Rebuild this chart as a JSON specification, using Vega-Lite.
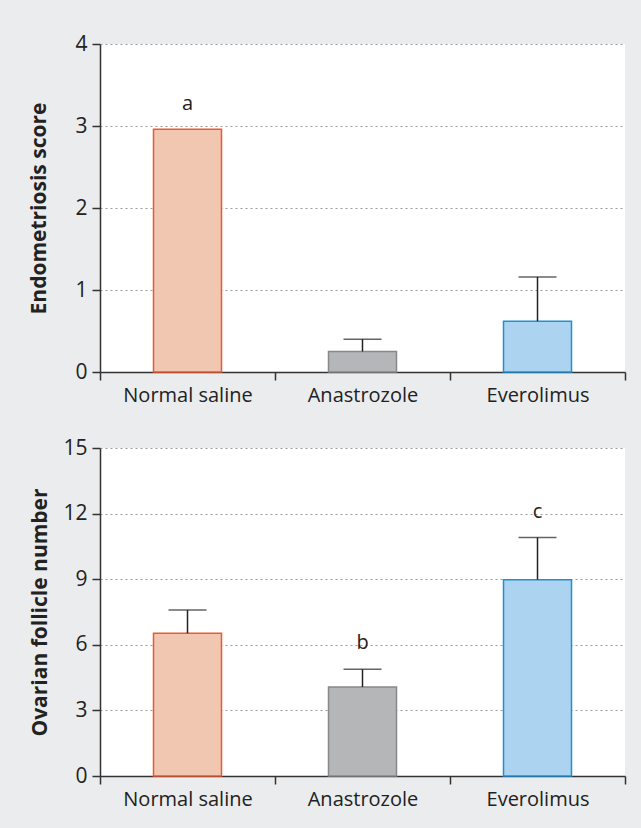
{
  "$schema": "https://vega.github.io/schema/vega-lite/v6.json",
  "background": "#ebeced",
  "padding": {"left": 28, "top": 33, "right": 16, "bottom": 20},
  "datasets": {
    "endo": [
      {"group": "Normal saline", "mean": 2.96, "upper": null, "letter": "a", "letter_y": 3.27},
      {"group": "Anastrozole", "mean": 0.25, "upper": 0.40, "letter": "", "letter_y": null},
      {"group": "Everolimus", "mean": 0.62, "upper": 1.16, "letter": "", "letter_y": null}
    ],
    "foll": [
      {"group": "Normal saline", "mean": 6.53, "upper": 7.59, "letter": "", "letter_y": null},
      {"group": "Anastrozole", "mean": 4.07, "upper": 4.88, "letter": "b", "letter_y": 6.07},
      {"group": "Everolimus", "mean": 8.98, "upper": 10.91, "letter": "c", "letter_y": 12.08}
    ]
  },
  "config": {
    "font": "Open Sans",
    "view": {"stroke": null, "fill": "white"},
    "axis": {
      "labelFont": "Open Sans",
      "labelFontSize": 20,
      "labelColor": "#222222",
      "domainColor": "#333333",
      "domainWidth": 1.5,
      "tickColor": "#333333",
      "tickWidth": 1.5,
      "tickSize": 8,
      "titleFont": "Open Sans",
      "titleFontWeight": "bold",
      "titleFontSize": 21,
      "titleColor": "#222222"
    }
  },
  "vconcat": [
    {
      "width": 525,
      "height": 328,
      "data": {"name": "endo"},
      "encoding": {
        "x": {
          "field": "group", "type": "nominal",
          "sort": ["Normal saline", "Anastrozole", "Everolimus"],
          "scale": {"paddingInner": 0, "paddingOuter": 0},
          "axis": {"title": null, "labelAngle": 0, "tickBand": "extent", "labelPadding": 5, "grid": false}
        }
      },
      "layer": [
        {
          "mark": {"type": "bar", "width": 68, "strokeWidth": 1.5},
          "encoding": {
            "y": {
              "field": "mean", "type": "quantitative",
              "scale": {"domain": [0, 4], "nice": false},
              "axis": {
                "title": "Endometriosis score", "values": [0, 1, 2, 3, 4], "format": "d",
                "grid": true, "gridColor": "#9a9a9a", "gridDash": [2, 3], "gridWidth": 1,
                "labelPadding": 5, "labelFontSize": 21, "titlePadding": 25
              }
            },
            "fill": {
              "field": "group", "type": "nominal", "legend": null,
              "scale": {"domain": ["Normal saline", "Anastrozole", "Everolimus"], "range": ["#f2c7b1", "#b5b6b8", "#acd3ef"]}
            },
            "stroke": {
              "field": "group", "type": "nominal", "legend": null,
              "scale": {"domain": ["Normal saline", "Anastrozole", "Everolimus"], "range": ["#e85a32", "#87888a", "#1f91d3"]}
            }
          }
        },
        {
          "transform": [{"filter": "datum.upper != null"}],
          "mark": {"type": "rule", "color": "#222222", "strokeWidth": 1.5},
          "encoding": {"y": {"field": "mean", "type": "quantitative"}, "y2": {"field": "upper"}}
        },
        {
          "transform": [{"filter": "datum.upper != null"}],
          "mark": {"type": "tick", "color": "#222222", "thickness": 1.5, "size": 38, "orient": "horizontal"},
          "encoding": {"y": {"field": "upper", "type": "quantitative"}}
        },
        {
          "transform": [{"filter": "datum.letter_y != null"}],
          "mark": {"type": "text", "fontSize": 20, "color": "#222222", "font": "Open Sans"},
          "encoding": {"y": {"field": "letter_y", "type": "quantitative"}, "text": {"field": "letter"}}
        }
      ]
    },
    {
      "width": 525,
      "height": 328,
      "data": {"name": "foll"},
      "encoding": {
        "x": {
          "field": "group", "type": "nominal",
          "sort": ["Normal saline", "Anastrozole", "Everolimus"],
          "scale": {"paddingInner": 0, "paddingOuter": 0},
          "axis": {"title": null, "labelAngle": 0, "tickBand": "extent", "labelPadding": 5, "grid": false}
        }
      },
      "layer": [
        {
          "mark": {"type": "bar", "width": 68, "strokeWidth": 1.5},
          "encoding": {
            "y": {
              "field": "mean", "type": "quantitative",
              "scale": {"domain": [0, 15], "nice": false},
              "axis": {
                "title": "Ovarian follicle number", "values": [0, 3, 6, 9, 12, 15], "format": "d",
                "grid": true, "gridColor": "#9a9a9a", "gridDash": [2, 3], "gridWidth": 1,
                "labelPadding": 5, "labelFontSize": 21, "titlePadding": 12
              }
            },
            "fill": {
              "field": "group", "type": "nominal", "legend": null,
              "scale": {"domain": ["Normal saline", "Anastrozole", "Everolimus"], "range": ["#f2c7b1", "#b5b6b8", "#acd3ef"]}
            },
            "stroke": {
              "field": "group", "type": "nominal", "legend": null,
              "scale": {"domain": ["Normal saline", "Anastrozole", "Everolimus"], "range": ["#e85a32", "#87888a", "#1f91d3"]}
            }
          }
        },
        {
          "transform": [{"filter": "datum.upper != null"}],
          "mark": {"type": "rule", "color": "#222222", "strokeWidth": 1.5},
          "encoding": {"y": {"field": "mean", "type": "quantitative"}, "y2": {"field": "upper"}}
        },
        {
          "transform": [{"filter": "datum.upper != null"}],
          "mark": {"type": "tick", "color": "#222222", "thickness": 1.5, "size": 38, "orient": "horizontal"},
          "encoding": {"y": {"field": "upper", "type": "quantitative"}}
        },
        {
          "transform": [{"filter": "datum.letter_y != null"}],
          "mark": {"type": "text", "fontSize": 20, "color": "#222222", "font": "Open Sans"},
          "encoding": {"y": {"field": "letter_y", "type": "quantitative"}, "text": {"field": "letter"}}
        }
      ]
    }
  ],
  "spacing": 32,
  "resolve": {"scale": {"fill": "independent", "stroke": "independent"}}
}
